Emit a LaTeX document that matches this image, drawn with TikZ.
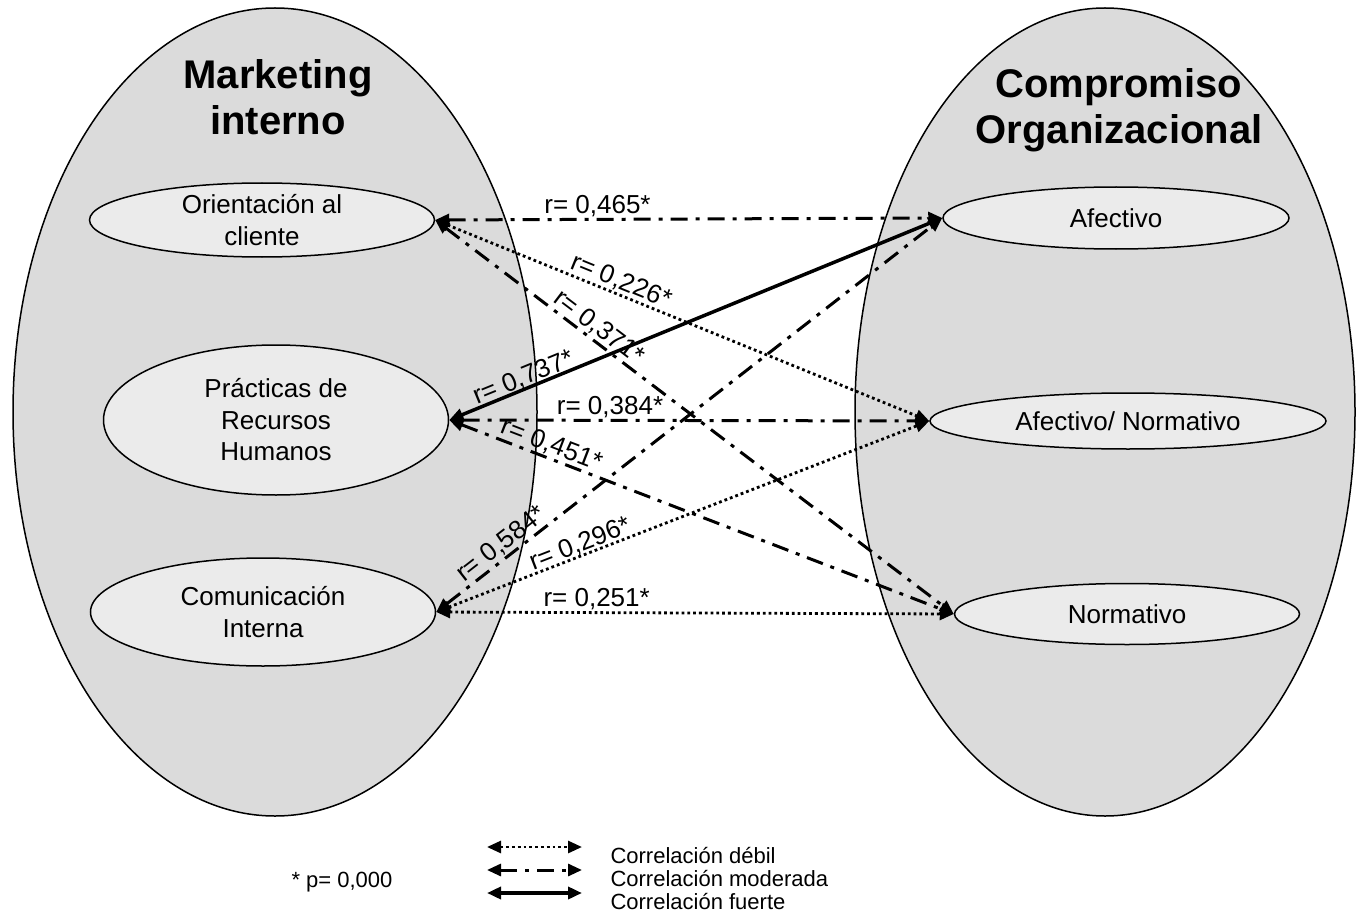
\documentclass[tikz,border=0pt]{standalone}
\usepackage{fontspec}
\setmainfont{Liberation Sans}
\usetikzlibrary{shapes.geometric,arrows.meta}
\definecolor{cgrupo}{gray}{0.86}
\definecolor{cfactor}{gray}{0.92}

\begin{document}
\begin{tikzpicture}[x=1pt,y=-1pt,
		grupo/.style={draw, line width=1.5pt, fill=cgrupo},
		titulo/.style={align=center, font=\fontsize{40}{46}\selectfont\bfseries},
		factor/.style={ellipse, draw, line width=1.5pt, fill=cfactor, inner sep=0pt,
			align=center, font=\fontsize{26}{31.5}\selectfont},
		corr/.style={>={Triangle[length=14pt,width=12pt]}, <->},
		debil/.style={corr, line width=2.8pt, dash pattern=on 2.8pt off 3pt},
		moderada/.style={corr, line width=3pt, dash pattern=on 17pt off 8pt on 4pt off 8pt},
		fuerte/.style={corr, line width=3.5pt},
		rlabel/.style={font=\fontsize{26}{31.5}\selectfont, inner sep=1pt},
		leyenda/.style={anchor=base west, font=\fontsize{22}{23}\selectfont}]
		\useasboundingbox (0,0) rectangle (1357,920);
		% Groups
		\draw[grupo] (275,412) ellipse (262 and 404);
		\draw[grupo] (1105,412) ellipse (250 and 404);
		\node[titulo] (mkt) at (278,97) {Marketing\\interno};
		\node[titulo] (cmp) at (1119,110) {Compromiso\\Organizacional};
		% Dimensions (left)
		\node[factor, minimum width=345pt, minimum height=74pt] (ori) at (262,220) {Orientación al\\cliente};
		\node[factor, minimum width=345pt, minimum height=150pt] (prh) at (276,420) {Prácticas de\\Recursos\\Humanos};
		\node[factor, minimum width=345pt, minimum height=108pt] (com) at (263,612) {Comunicación\\Interna};
		% Dimensions (right)
		\node[factor, minimum width=346pt, minimum height=62pt] (afe) at (1116,218) {Afectivo};
		\node[factor, minimum width=396pt, minimum height=56pt] (afn) at (1128,421) {Afectivo/ Normativo};
		\node[factor, minimum width=345pt, minimum height=61pt] (nor) at (1127,614) {Normativo};
		% Correlations
		\draw[moderada] (ori.east) -- node[rlabel, above, pos=0.32] {r= 0,465*} (afe.west);
		\draw[debil] (ori.east) -- node[rlabel, sloped, above, pos=0.366] {r= 0,226*} (afn.west);
		\draw[moderada] (ori.east) -- node[rlabel, sloped, above, pos=0.30] {r= 0,371*} (nor.west);
		\draw[fuerte] (prh.east) -- node[rlabel, sloped, above=-3pt, pos=0.16] {r= 0,737*} (afe.west);
		\draw[moderada] (prh.east) -- node[rlabel, above, pos=0.335] {r= 0,384*} (afn.west);
		\draw[moderada] (prh.east) -- node[rlabel, sloped, above, pos=0.193] {r= 0,451*} (nor.west);
		\draw[moderada] (com.east) -- node[rlabel, sloped, above, pos=0.145] {r= 0,584*} (afe.west);
		\draw[debil] (com.east) -- node[rlabel, sloped, above=-2pt, pos=0.30] {r= 0,296*} (afn.west);
		\draw[debil] (com.east) -- node[rlabel, above, pos=0.31] {r= 0,251*} (nor.west);
		% Legend
		\coordinate (d1) at (487,847);
		\coordinate (d2) at (582,847);
		\coordinate (m1) at (487,870);
		\coordinate (m2) at (582,870);
		\coordinate (f1) at (487,893);
		\coordinate (f2) at (582,893);
		\draw[debil] (d1) -- (d2);
		\draw[moderada] (m1) -- (m2);
		\draw[fuerte] (f1) -- (f2);
		\node[leyenda] (ld) at (607,863) {Correlación débil};
		\node[leyenda] (lm) at (607,886) {Correlación moderada};
		\node[leyenda] (lf) at (607,909) {Correlación fuerte};
		\node[leyenda] (pval) at (288,887) {* p= 0,000};
	\end{tikzpicture}
\end{document}
